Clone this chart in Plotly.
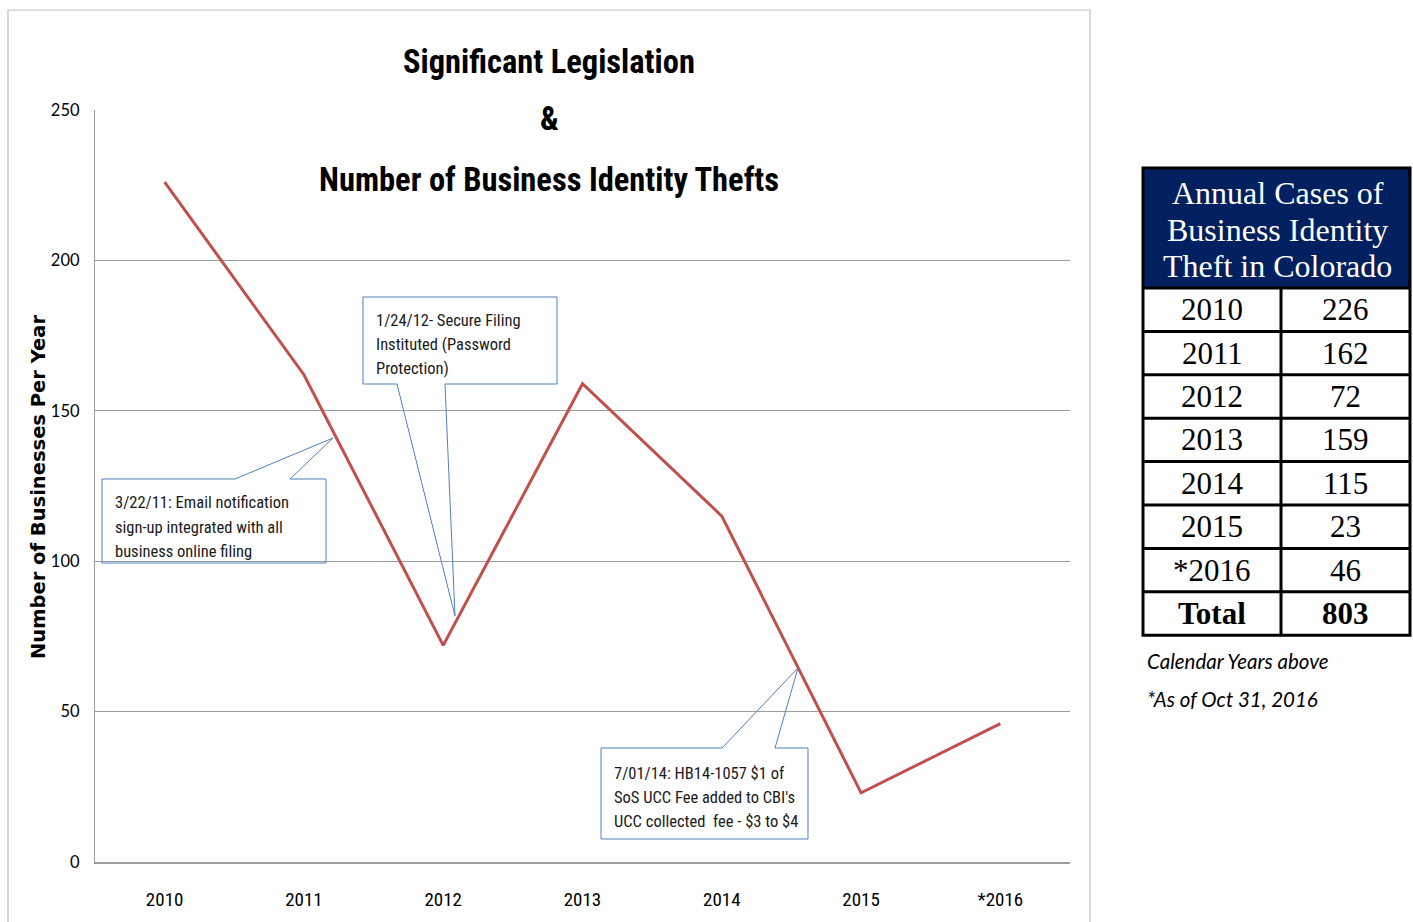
import plotly.graph_objects as go

# ---- data ----
years = ["2010", "2011", "2012", "2013", "2014", "2015", "*2016"]
cases = [226, 162, 72, 159, 115, 23, 46]
total_label = "Total"
total_value = 803
y_ticks = [0, 50, 100, 150, 200, 250]

title_lines = ["Significant Legislation", "&", "Number of Business Identity Thefts"]
y_title = "Number of Businesses Per Year"
table_header = ["Annual Cases of", "Business Identity", "Theft in Colorado"]
notes = ["Calendar Years above", "*As of Oct 31, 2016"]
callouts = [
    ["3/22/11: Email notification", "sign-up integrated with all", "business online filing"],
    ["1/24/12- Secure Filing", "Instituted (Password", "Protection)"],
    ["7/01/14: HB14-1057 $1 of", "SoS UCC Fee added to CBI's", "UCC collected  fee - $3 to $4"],
]

W, H = 1413, 922
def X(px):
    return px / W
def Y(py):
    return 1 - py / H

NARROW = "Roboto Condensed, Liberation Sans Narrow, sans-serif"
SERIF = "Liberation Serif, Times New Roman, serif"
GRID = "#9c9c9c"
BLUE = "#4f81bd"

fig = go.Figure()
fig.add_trace(go.Scatter(
    x=years, y=cases, mode="lines",
    line=dict(color="#c0504d", width=3),
    hoverinfo="x+y", showlegend=False,
))

shapes = []
annotations = []

# outer chart border
shapes.append(dict(type="rect", xref="paper", yref="paper",
                   x0=X(8), x1=X(1090), y0=Y(930), y1=Y(10),
                   line=dict(color="#bfbfbf", width=1.2), fillcolor="rgba(0,0,0,0)", layer="below"))

# title
for txt, py in zip(title_lines, [62, 119, 180]):
    annotations.append(dict(text="<b>" + txt + "</b>", xref="paper", yref="paper",
                            x=X(549), y=Y(py), xanchor="center", yanchor="middle",
                            showarrow=False, font=dict(family=NARROW, size=32.5, color="#000")))

# y axis title
annotations.append(dict(text="<b>" + y_title + "</b>", xref="paper", yref="paper",
                        x=X(38), y=Y(487), xanchor="center", yanchor="middle", textangle=-90,
                        showarrow=False, font=dict(family="DejaVu Sans, sans-serif", size=19.5, color="#000")))

# callouts (outline paths in pixel layout positions)
def path(points):
    return "M " + " L ".join(f"{X(a):.5f},{Y(b):.5f}" for a, b in points) + " Z"

callout_paths = [
    [(102, 479), (235, 479), (333, 438), (290, 479), (326, 479), (326, 563), (102, 563)],
    [(363, 297), (557, 297), (557, 384), (445, 384), (455, 616), (397, 384), (363, 384)],
    [(601, 748), (722, 748), (798, 668), (775, 748), (808, 748), (808, 839), (601, 839)],
]
callout_text_pos = [(113, [503, 527, 551]), (374, [320, 344, 368]), (612, [773, 797, 821])]
for pts in callout_paths:
    shapes.append(dict(type="path", xref="paper", yref="paper", path=path(pts),
                       line=dict(color=BLUE, width=1), fillcolor="rgba(0,0,0,0)"))
for lines, (tx, tys) in zip(callouts, callout_text_pos):
    for ln, ty in zip(lines, tys):
        annotations.append(dict(text=ln, xref="paper", yref="paper", x=X(tx), y=Y(ty),
                                xanchor="left", yanchor="middle", showarrow=False,
                                font=dict(family=NARROW, size=16.5, color="#1a1a1a")))

# ---- table built from the data lists ----
tx0, tx1, tmid = 1143, 1410, 1281
ty0, hy1 = 168, 288
row_h = 43.4
n_rows = len(years) + 1
ty1 = hy1 + row_h * n_rows
shapes.append(dict(type="rect", xref="paper", yref="paper", x0=X(tx0), x1=X(tx1), y0=Y(hy1), y1=Y(ty0),
                   line=dict(width=0), fillcolor="#002060"))
for i in range(1, n_rows):
    yy = hy1 + row_h * i
    shapes.append(dict(type="line", xref="paper", yref="paper", x0=X(tx0), x1=X(tx1), y0=Y(yy), y1=Y(yy),
                       line=dict(color="#000", width=3)))
shapes.append(dict(type="line", xref="paper", yref="paper", x0=X(tx0), x1=X(tx1), y0=Y(hy1), y1=Y(hy1),
                   line=dict(color="#000", width=3)))
shapes.append(dict(type="line", xref="paper", yref="paper", x0=X(tmid), x1=X(tmid), y0=Y(hy1), y1=Y(ty1),
                   line=dict(color="#000", width=3)))
shapes.append(dict(type="rect", xref="paper", yref="paper", x0=X(tx0), x1=X(tx1), y0=Y(ty1), y1=Y(ty0),
                   line=dict(color="#000", width=3), fillcolor="rgba(0,0,0,0)"))
for txt, py in zip(table_header, [193, 230, 266]):
    annotations.append(dict(text=txt, xref="paper", yref="paper", x=X((tx0 + tx1) / 2 + 1), y=Y(py),
                            xanchor="center", yanchor="middle", showarrow=False,
                            font=dict(family=SERIF, size=32, color="#ffffff")))
col_labels = years + ["<b>" + total_label + "</b>"]
col_values = [str(v) for v in cases] + ["<b>" + str(total_value) + "</b>"]
for i, (a, b) in enumerate(zip(col_labels, col_values)):
    cy = hy1 + row_h * (i + 0.5)
    annotations.append(dict(text=a, xref="paper", yref="paper", x=X((tx0 + tmid) / 2), y=Y(cy),
                            xanchor="center", yanchor="middle", showarrow=False,
                            font=dict(family=SERIF, size=31, color="#000")))
    annotations.append(dict(text=b, xref="paper", yref="paper", x=X((tmid + tx1) / 2), y=Y(cy),
                            xanchor="center", yanchor="middle", showarrow=False,
                            font=dict(family=SERIF, size=31, color="#000")))
for txt, py in zip(notes, [661, 699]):
    annotations.append(dict(text="<i>" + txt + "</i>", xref="paper", yref="paper", x=X(1145), y=Y(py),
                            xanchor="left", yanchor="middle", showarrow=False,
                            font=dict(family="Lato, Open Sans, sans-serif", size=20.5, color="#000")))

fig.update_layout(
    width=W, height=H,
    margin=dict(l=0, r=0, t=0, b=0),
    paper_bgcolor="white", plot_bgcolor="white",
    showlegend=False,
    shapes=shapes, annotations=annotations,
    xaxis=dict(
        domain=[X(95), X(1070)],
        type="category", range=[-0.5, 6.5],
        showgrid=False, showline=True, linecolor=GRID, linewidth=1.5,
        ticks="", ticklabelstandoff=19,
        tickfont=dict(family=NARROW, size=19, color="#000"),
        automargin=False,
    ),
    yaxis=dict(
        domain=[1 - 862 / H, 1 - 110 / H],
        range=[0, 250], tickvals=y_ticks,
        showgrid=True, gridcolor=GRID, gridwidth=1.3,
        showline=True, linecolor=GRID, linewidth=1.3,
        zeroline=False, ticks="", ticklabelstandoff=11,
        tickfont=dict(family="Lato, Open Sans, sans-serif", size=16.5, color="#000"),
        automargin=False,
    ),
)

fig.write_html("out.html", config={"displayModeBar": False},
               post_script="document.body.style.margin='0';document.body.style.overflow='hidden';")
